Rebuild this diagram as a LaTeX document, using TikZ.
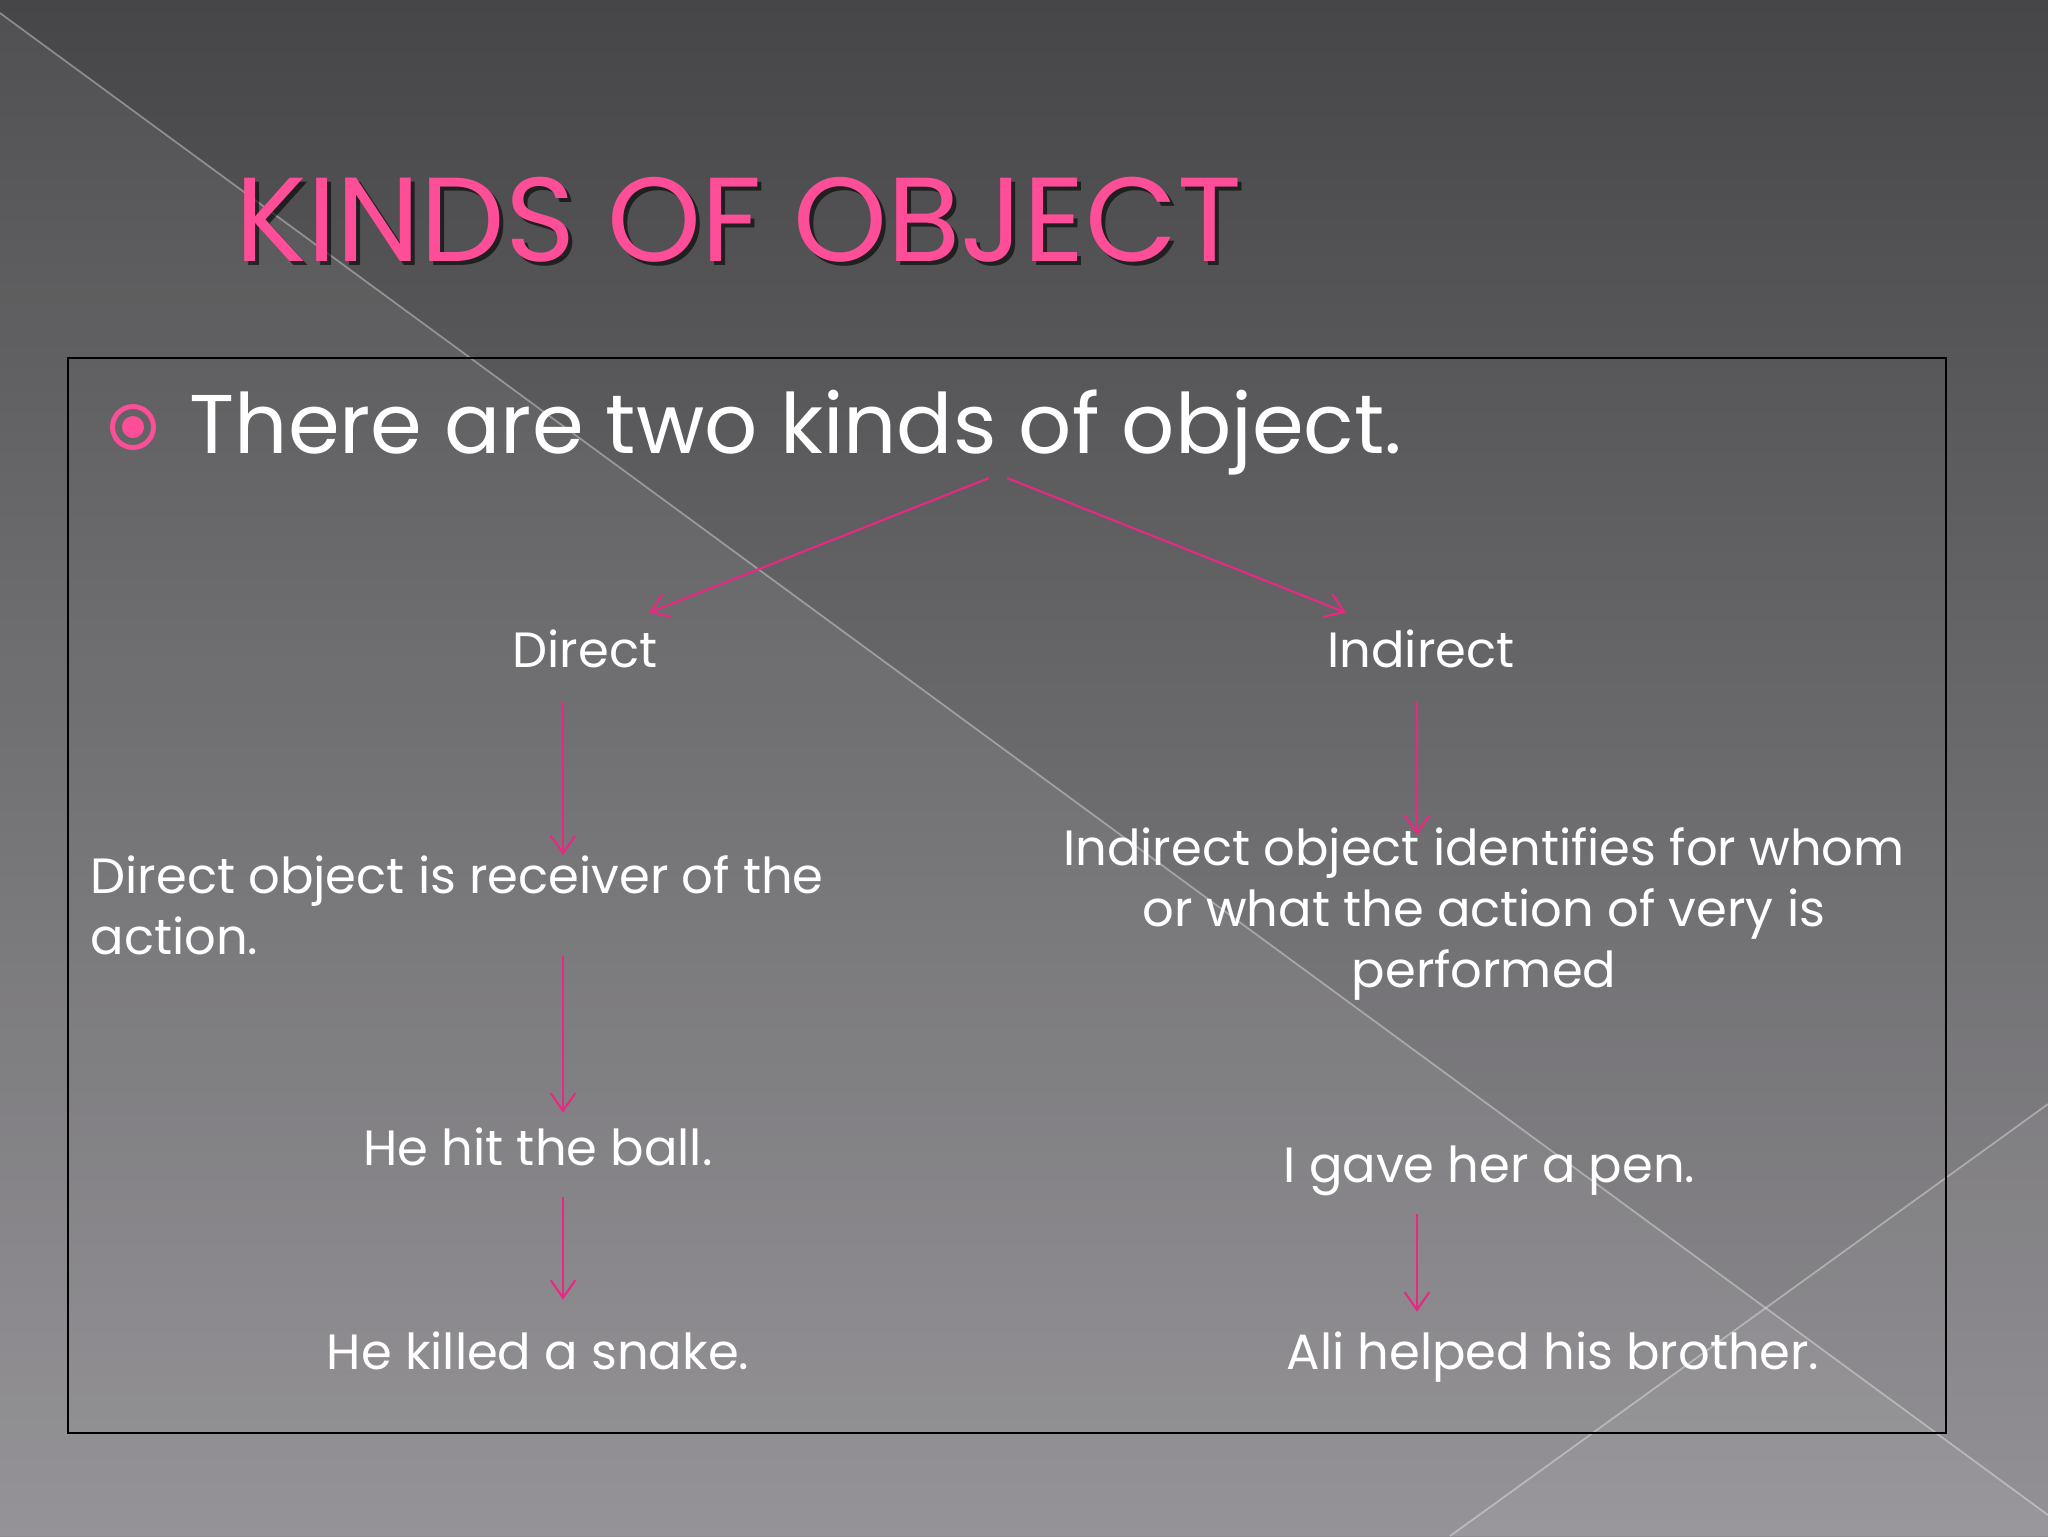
\documentclass[tikz,border=0pt]{standalone}
\usepackage{fontspec}
\setmainfont{Poppins}
\usepackage{tikz}
\usetikzlibrary{positioning,arrows.meta}
\definecolor{slidepink}{RGB}{255,78,152}
\definecolor{arrowpink}{RGB}{232,40,130}
\definecolor{bgtop}{RGB}{70,70,72}
\definecolor{bgbottom}{RGB}{143,141,145}

\begin{document}
\begin{tikzpicture}[x=0.1mm, y=-0.1mm, >={Straight Barb[length=5pt,width=7pt]},
	body/.style={text=white, inner sep=0pt, font=\fontsize{14.1}{17.4}\selectfont},
	link/.style={->, draw=arrowpink, line width=0.6pt}]
	% background
	\useasboundingbox (0,0) rectangle (2048,1536);
	\shade[top color=bgtop, bottom color=bgbottom] (0,0) rectangle (2048,1536);
	\fill[white, opacity=0.06] (0,13) -- (2048,1515) -- (2048,1536) -- (0,1536) -- cycle;
	\fill[white, opacity=0.04] (2048,1104) -- (1450,1536) -- (2048,1536) -- cycle;
	\draw[white, opacity=0.35, line width=0.5pt] (0,13) -- (2048,1515);
	\draw[white, opacity=0.35, line width=0.5pt] (2048,1104) -- (1450,1536);
	% title
	\node (titleshadow) [anchor=base west, inner sep=0pt, text=black, opacity=0.6,
		font=\fontsize{34}{40}\selectfont] at (239,265) {KINDS OF OBJECT};
	\node (title) [anchor=base west, inner sep=0pt, text=slidepink,
		font=\fontsize{34}{40}\selectfont] at (235,261) {KINDS OF OBJECT};
	% frame
	\draw[black, line width=0.7pt] (68,358) rectangle (1946,1433);
	\node (bullet) [circle, draw=slidepink, line width=1.4pt, minimum size=4.1mm, inner sep=0pt] at (133,427) {};
	\node (bulletdot) [circle, fill=slidepink, minimum size=2.2mm, inner sep=0pt] at (bullet.center) {};
	\node (intro) [anchor=base west, text=white, inner sep=0pt,
		font=\fontsize{23.7}{30}\selectfont] at (189,453) {There are two kinds of object.};
	\coordinate (forkL) at (989,478);
	\coordinate (forkR) at (1007,478);
	\coordinate (colL) at (563,0);
	\coordinate (colR) at (1417,0);
	% direct side
	\node (direct) [body, anchor=base] at (585,667) {Direct};
	\node (dobj) [body, anchor=north west, align=left] at (90,855) {Direct object is receiver of the\\action.};
	\node (hit) [body, anchor=base] at (538,1165) {He hit the ball.};
	\node (snake) [body, anchor=base] at (538,1369) {He killed a snake.};
	% indirect side
	\node (indirect) [body, anchor=base] at (1421,667) {Indirect};
	\node (iobj) [body, anchor=north, align=center] at (1484,827) {Indirect object identifies for whom\\or what the action of very is\\performed};
	\node (gave) [body, anchor=base west] at (1283,1182) {I gave her a pen.};
	\node (ali) [body, anchor=base west] at (1286,1369) {Ali helped his brother.};
	% arrows
	\draw[link] (forkL) -- ([shift={(-9,-16)}]direct.north east);
	\draw[link] (forkR) -- ([shift={(19,-16)}]indirect.north west);
	\draw[link, shorten <=3.3mm] (direct.south -| colL) -- (dobj.north -| colL);
	\draw[link, shorten >=1.4mm] (dobj.south -| colL) -- (hit.north -| colL);
	\draw[link, shorten <=3.1mm, shorten >=3.1mm] (hit.south -| colL) -- (snake.north -| colL);
	\draw[link, shorten <=3.3mm, shorten >=-0.8mm] (indirect.south -| colR) -- (iobj.north -| colR);
	\draw[link, shorten <=1.8mm, shorten >=1.9mm] (gave.south -| colR) -- (ali.north -| colR);
\end{tikzpicture}
\end{document}
